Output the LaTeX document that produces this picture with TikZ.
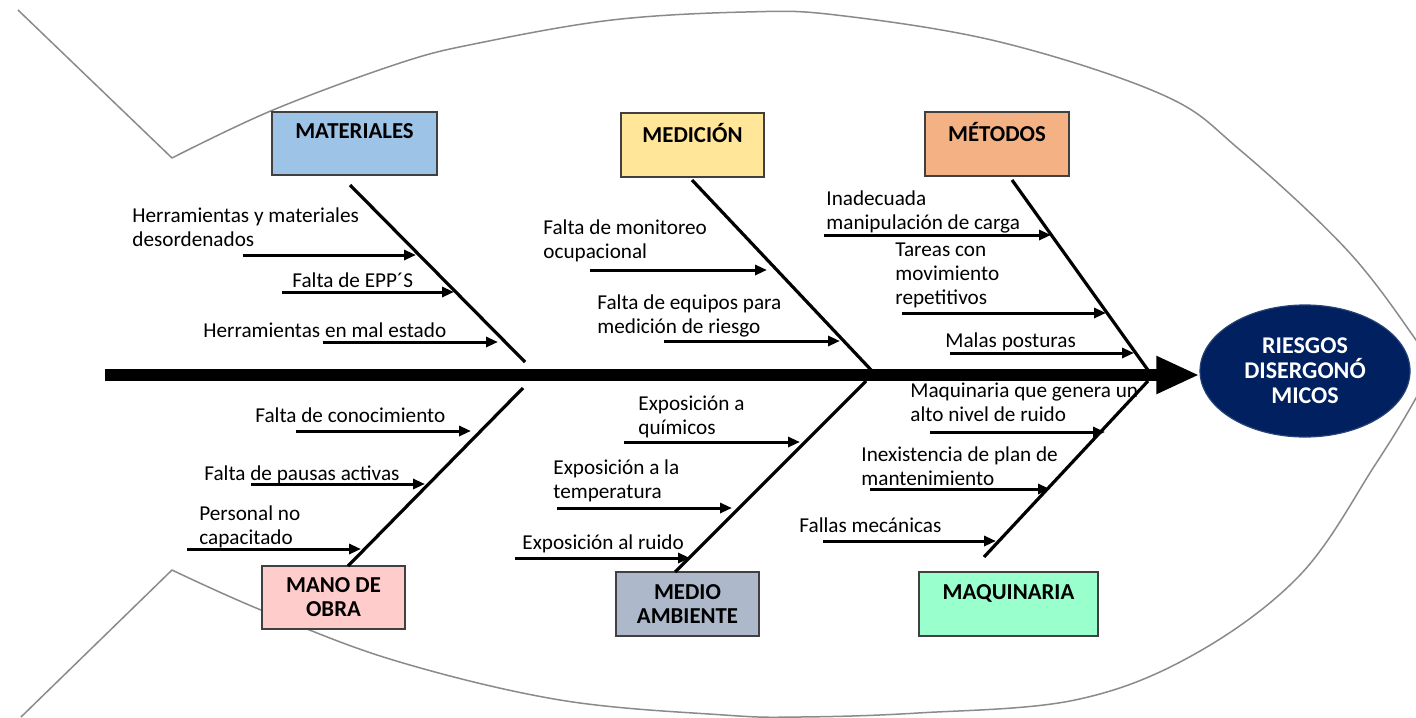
\documentclass[tikz,border=0pt]{standalone}
\usepackage{fontspec}
\setmainfont{Carlito}
\usetikzlibrary{arrows.meta,shapes.geometric}
\definecolor{outlinegray}{HTML}{8A8A8A}
\definecolor{boxline}{HTML}{404040}
\definecolor{cmat}{HTML}{9DC3E6}
\definecolor{cmed}{HTML}{FFE699}
\definecolor{cmet}{HTML}{F4B183}
\definecolor{cmano}{HTML}{FFCCCC}
\definecolor{camb}{HTML}{ADB9CA}
\definecolor{cmaq}{HTML}{99FFCC}
\definecolor{navy}{HTML}{002060}
\tikzset{
  cat/.style={draw=boxline, line width=0.75pt, inner sep=0pt, align=center,
    font=\bfseries\fontsize{11.4}{12}\selectfont},
  bone/.style={line width=1.6pt},
  cause/.style={line width=1.5pt, -{Triangle[length=6pt,width=5pt]}},
  lbl/.style={anchor=base west, inner sep=0pt, align=left,
    font=\fontsize{10.6}{11.8}\selectfont},
  body/.style={draw=outlinegray, line width=0.75pt},
}
\begin{document}
\begin{tikzpicture}[x=0.5pt,y=-0.5pt]
\useasboundingbox (0,0) rectangle (1416,717);
% fish body
\begin{scope}
\clip (0,0) rectangle (1416,717);
\draw[body] (18,10) -- (172,158);
\draw[body] (21,717) -- (172,570);
\draw[body] plot[smooth, tension=0.6] coordinates {(172,158) (273,110) (400,63) (479,43) (612,20) (746,12) (836,15) (1000,42) (1163,95) (1240,150) (1347,250) (1416,340) (1440,380)};
\draw[body] plot[smooth, tension=0.6] coordinates {(172,570) (261,610) (393,660) (560,700) (724,715) (800,717) (918,713) (1075,700) (1193,655) (1300,575) (1375,465) (1416,398) (1440,350)};
\end{scope}
% category boxes
\node[cat, fill=cmat, minimum width=82.5pt, minimum height=31.5pt] (mat) at (354.5,143.5) {MATERIALES\\\mbox{}};
\node[cat, fill=cmed, minimum width=71.5pt, minimum height=32pt] (med) at (692.5,145) {MEDICIÓN\\\mbox{}};
\node[cat, fill=cmet, minimum width=72pt, minimum height=32pt] (met) at (997,144) {MÉTODOS\\\mbox{}};
\node[cat, fill=cmano, minimum width=71.5pt, minimum height=31.5pt] (mano) at (333.5,597.5) {MANO DE\\OBRA};
\node[cat, fill=camb, minimum width=71.5pt, minimum height=32pt] (amb) at (687.5,604) {MEDIO\\AMBIENTE};
\node[cat, fill=cmaq, minimum width=89.5pt, minimum height=32pt] (maq) at (1008.5,604) {MAQUINARIA\\\mbox{}};
% effect
\node[ellipse, fill=navy, draw=navy!85!white, line width=0.6pt, minimum width=105pt, minimum height=66pt, inner sep=0pt, text=white, align=center, font=\bfseries\fontsize{12}{12.5}\selectfont] (eff) at (1305,371) {RIESGOS\\DISERGONÓ\\MICOS};
% spine
\coordinate (tail) at (105,375);
\draw[line width=6pt, -{Triangle[length=21.5pt,width=17.5pt]}] (tail) -- (tail -| eff.west);
% bones
\coordinate (bmat1) at (350,185);  \coordinate (bmat2) at (525,362);
\coordinate (bmed1) at (692,180);  \coordinate (bmed2) at (873,372);
\coordinate (bmet1) at (1012,180); \coordinate (bmet2) at (1150,373);
\coordinate (bmano1) at (523,388); \coordinate (bmano2) at (348,566);
\coordinate (bamb1) at (866,381);  \coordinate (bamb2) at (675,572);
\coordinate (bmaq1) at (1148,381); \coordinate (bmaq2) at (984,557);
\foreach \b in {mat,med,met,mano,amb,maq} {\draw[bone] (b\b1) -- (b\b2);}
% cause arrows
\foreach \i/\xa/\xb/\y in {1/243/416/255, 2/282/454/292, 3/323/498/342,
  4/590/767/270, 5/664/840/341,
  6/824/1051/235, 7/902/1106/313, 8/950/1134/353,
  9/296/471/431, 10/251/425/484, 11/187/361/549,
  12/624/800/442, 13/557/732/508, 14/515/690/558,
  15/930/1105/432, 16/870/1050/489, 17/823/996/541} {
  \coordinate (s\i) at (\xa,\y);
  \coordinate (e\i) at (\xb,\y);
  \draw[cause] (s\i) -- (e\i);
}
% labels (base = baseline of the last line)
\node[lbl] (t1) at (132,246) {Herramientas y materiales\\desordenados};
\node[lbl] (t2) at (292,287) {Falta de EPP´S};
\node[lbl] (t3) at (203,337) {Herramientas en mal estado};
\node[lbl] (t4) at (543,258) {Falta de monitoreo\\ocupacional};
\node[lbl] (t5) at (597,333) {Falta de equipos para\\medición de riesgo};
\node[lbl] (t6) at (826,229) {Inadecuada\\manipulación de carga};
\node[lbl] (t7) at (895,304) {Tareas con\\movimiento\\repetitivos};
\node[lbl] (t8) at (945,347) {Malas posturas};
\node[lbl] (t9) at (255,422) {Falta de conocimiento};
\node[lbl] (t10) at (204,480) {Falta de pausas activas};
\node[lbl] (t11) at (199,544) {Personal no\\capacitado};
\node[lbl] (t12) at (638,434) {Exposición a\\químicos};
\node[lbl] (t13) at (553,498) {Exposición a la\\temperatura};
\node[lbl] (t14) at (522,549) {Exposición al ruido};
\node[lbl] (t15) at (910,421) {Maquinaria que genera un\\alto nivel de ruido};
\node[lbl] (t16) at (861,485) {Inexistencia de plan de\\mantenimiento};
\node[lbl] (t17) at (799,532) {Fallas mecánicas};
\end{tikzpicture}
\end{document}
